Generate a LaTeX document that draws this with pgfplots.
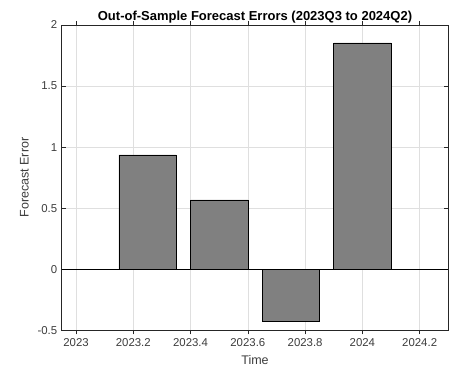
\documentclass[border=0pt]{standalone}
\usepackage{pgfplots}
\pgfplotsset{compat=1.18}
\usepackage{fontspec}
\setmainfont{Liberation Sans}
\definecolor{axgray}{RGB}{38,38,38}
\definecolor{lblgray}{RGB}{60,60,60}
\definecolor{bargray}{RGB}{128,128,128}
\definecolor{gridgray}{RGB}{223,223,223}
\begin{document}
\begin{tikzpicture}[x=1pt,y=1pt]
\useasboundingbox (0,0) rectangle (459,369);
\begin{axis}[
  at={(61.7pt,38.7pt)}, anchor=south west,
  scale only axis, width=386.6pt, height=305.3pt,
  xmin=2022.95, xmax=2024.3, ymin=-0.5, ymax=2,
  xtick={2023,2023.2,2023.4,2023.6,2023.8,2024,2024.2},
  xticklabels={2023,2023.2,2023.4,2023.6,2023.8,2024,2024.2},
  ytick={-0.5,0,0.5,1,1.5,2},
  yticklabels={-0.5,0,0.5,1,1.5,2},
  tick align=inside, tick pos=both,
  major tick length=4pt,
  axis line style={axgray, line width=0.6pt},
  every tick/.style={axgray, line width=0.5pt},
  grid=major, grid style={gridgray, line width=0.4pt},
  ticklabel style={font=\fontsize{11.4}{13}\selectfont, text=lblgray},
  xticklabel style={yshift=-1pt},
  yticklabel style={xshift=-1pt},
  xlabel={Time}, ylabel={Forecast Error},
  label style={font=\fontsize{12.5}{14}\selectfont, text=lblgray},
  xlabel style={yshift=-2pt},
  ylabel style={yshift=2pt},
  title={\textbf{Out-of-Sample Forecast Errors (2023Q3 to 2024Q2)}},
  title style={font=\fontsize{13}{15}\selectfont, yshift=-8pt},
  ybar, bar width=0.2, bar shift=0pt,
]
\addplot[fill=bargray, draw=black, line width=0.6pt] coordinates {
  (2023.25,0.936) (2023.5,0.567) (2023.75,-0.429) (2024.0,1.853)
};
\draw[black, line width=0.5pt] (axis cs:2022.95,0) -- (axis cs:2024.3,0);
\end{axis}
\end{tikzpicture}
\end{document}
